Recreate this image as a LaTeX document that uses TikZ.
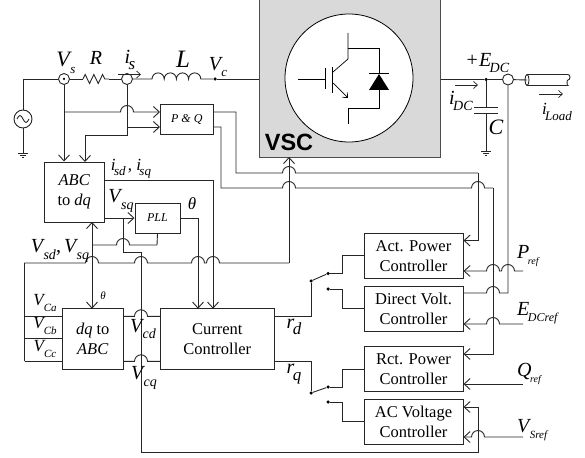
\documentclass[tikz,border=0pt]{standalone}
\usepackage{fontspec}
\setmainfont{Liberation Serif}
\newfontfamily\vscfont{Liberation Sans}
\usetikzlibrary{arrows.meta,decorations.pathmorphing}
\newcommand{\vsub}[3][13]{\textit{#2}\kern-1.5pt\raisebox{-.32em}{\fontsize{#1}{#1}\selectfont\textit{#3}}}
\newcommand{\gnd}[1]{\draw[sig] (#1) ++(-5,0) -- ++(10,0) ++(-8,2) -- ++(6,0) ++(-4,2) -- ++(2,0);}
\tikzset{
  sig/.style={line width=0.9pt, black!85},
  box/.style={draw=black!85, line width=1pt, fill=white, inner sep=0pt, align=center, font=\fontsize{16.5}{20}\selectfont},
  ctrl/.style={box, minimum width=99pt, minimum height=45pt},
  tag/.style={inner sep=0pt, font=\fontsize{20}{20}\selectfont},
  tagbig/.style={inner sep=0pt, font=\fontsize{25}{25}\selectfont},
  tagsm/.style={inner sep=0pt, font=\fontsize{17}{17}\selectfont},
  jack/.style={circle, draw=black!85, line width=0.9pt, minimum size=11pt, inner sep=0pt},
  dot/.style={circle, fill=black, minimum size=3.5pt, inner sep=0pt},
  cur/.style={-{Straight Barb[length=4pt,width=7pt]}, line width=0.7pt, black!85},
}
\begin{document}
\begin{tikzpicture}[x=1pt, y=-1pt, >={Straight Barb[length=6pt,width=11pt]}]
  \useasboundingbox (0,0) rectangle (585,457);
  % converter
  \node[draw=black!70, line width=1pt, fill=black!15, minimum width=181pt, minimum height=167pt, inner sep=0pt] (vsc) at (349.5,73.5) {};
  \node[circle, draw=black, line width=0.8pt, fill=white, minimum size=128pt, inner sep=0pt] (igbt) at (349,78) {};
  \node[inner sep=0pt, font=\vscfont\bfseries\fontsize{23.5}{23.5}\selectfont] (vsclabel) at (289,142) {VSC};
  \draw[line width=0.7pt] (298,79) -- (325,79) (325,68) -- (325,89) (332,67) -- (332,93);
  \draw[line width=0.7pt] (348,33) -- (348,59) -- (333,72);
  \draw[line width=0.7pt, -{Straight Barb[length=4pt,width=7pt]}] (333,83) -- (348,98);
  \draw[line width=0.7pt] (348,108) -- (348,124);
  \draw[line width=0.7pt] (348,48) -- (379,48) -- (379,73) (369,73) -- (389,73) (379,90) -- (379,108) -- (348,108);
  \fill (369,90) -- (389,90) -- (379,74) -- cycle;
  % blocks
  \node[box, minimum width=52.5pt, minimum height=29.5pt, font=\itshape\fontsize{12}{12}\selectfont] (pq) at (186.75,119.75) {P \& Q};
  \node[box, minimum width=60.5pt, minimum height=60pt] (abc) at (74.25,192) {\textit{ABC}\\to \textit{dq}};
  \node[box, minimum width=45pt, minimum height=30pt, font=\itshape\fontsize{12}{12}\selectfont] (pll) at (157.5,218) {PLL};
  \node[box, minimum width=60.5pt, minimum height=60.3pt] (dqabc) at (92.75,338.85) {\textit{dq} to\\\textit{ABC}};
  \node[box, minimum width=113.5pt, minimum height=60.3pt] (cc) at (217.25,338.85) {Current\\Controller};
  \node[ctrl] (act) at (413.5,255.75) {Act. Power\\Controller};
  \node[ctrl] (dvc) at (413.5,308.5) {Direct Volt.\\Controller};
  \node[ctrl] (rct) at (413.5,369) {Rct. Power\\Controller};
  \node[ctrl] (acv) at (413.5,421.75) {AC Voltage\\Controller};
  % power circuit
  \node[circle, draw=black!85, line width=0.9pt, minimum size=18pt, inner sep=0pt] (src) at (23,119) {};
  \node[jack] (vs) at (64,79) {};
  \node[dot, minimum size=2.5pt] (vsdot) at (64,79) {};
  \node[jack] (is) at (127,79) {};
  \node[dot] (vcdot) at (215,79) {};
  \node[dot] (dcdot) at (486,79.5) {};
  \node[jack] (ed) at (508,79.5) {};
  \coordinate (resl) at (83,79);
  \coordinate (resr) at (109,79);
  \coordinate (indl) at (152,79);
  \coordinate (gndac) at (23,153);
  \coordinate (gnddc) at (486,151);
  \coordinate (cabl) at (527,80);
  \draw[sig] (17,119) sin (20,115.5) cos (23,119) sin (26,122.5) cos (29,119);
  \draw[sig] (vs) -| (src);
  \draw[sig] (src) -- (gndac);
  \gnd{gndac}
  \draw[sig] (vs) -- (resl);
  \draw[sig, decorate, decoration={zigzag, segment length=8.7pt, amplitude=4.5pt}] (resl) -- (resr);
  \draw[sig] (resr) -- (is);
  \draw[sig] (is) -- (indl) arc (180:360:6.1) arc (180:360:6.1) arc (180:360:6.1) arc (180:360:6.1) -- (vcdot);
  \draw[sig] (vcdot) -- (vsc.west |- vcdot);
  \draw[sig] (vsc.east |- dcdot) -- (dcdot);
  \draw[sig] (dcdot) -- (ed);
  \draw[sig] (ed) -- (cabl);
  \draw[sig] (dcdot) -- (486,107) (474,107) -- (498,107) (474,113) -- (498,113) (486,113) -- (gnddc);
  \gnd{gnddc}
  \draw[sig] (cabl) ellipse (2 and 5.5);
  \draw[sig] (527,74.5) -- (568,74.5) arc (-90:90:2 and 2.75) arc (-90:-270:1 and 2.75) -- (527,85.5);
  \draw[cur] (118,74.5) -- (141,74.5);
  \draw[cur] (455,85) -- (478,85);
  \draw[cur] (539,94) -- (563,94);
  % measurements
  \draw[sig, ->] (vs) -- (vs |- abc.north);
  \draw[sig, ->] (64,112) -- (120.5,112) arc (180:360:6.5) -- (pq.west |- 0,112);
  \draw[sig, ->] (127,127) -- (pq.west |- 0,127);
  \draw[sig, ->] (is) -- (127,135) -- (85,135) -- (85,162);
  \draw[sig, ->] (abc.east |- 0,218) -- (pll.west);
  \draw[sig, ->] (abc.east |- 0,180) -- (213,180) -- (213,308.7);
  \draw[sig, ->] (pll.east) -- (198,218) -- (198,308.7);
  \draw[sig] (pll.south) -- (157,245) -- (129.5,245) arc (360:180:6.5) -- (92,245);
  \draw[sig, <->] (92,222) -- (92,308.7);
  \draw[sig] (123,218) -- (123,252.7) -- (141,252.7) -- (141,452) -- (478,452) -- (478,437);
  \draw[sig, ->] (478,437) -- (478,407) -- (acv.east |- 0,407);
  \draw[sig] (24.5,361) -- (24.5,263) -- (85.5,263) arc (180:360:6.5) -- (134.5,263) arc (180:360:6.5) -- (191.5,263) arc (180:360:6.5) -- (206.5,263) arc (180:360:6.5) -- (289,263);
  \draw[sig, ->] (289,263) -- (289,157);
  \draw[sig] (24.5,316.3) -- (dqabc.west |- 0,316.3);
  \draw[sig] (24.5,338.7) -- (dqabc.west |- 0,338.7);
  \draw[sig] (24.5,361.3) -- (dqabc.west |- 0,361.3);
  \draw[sig] (dqabc.east |- 0,316.3) -- (134.5,316.3) arc (180:360:6.5) -- (cc.west |- 0,316.3);
  \draw[sig] (dqabc.east |- 0,361.3) -- (134.5,361.3) arc (180:360:6.5) -- (cc.west |- 0,361.3);
  % power and voltage feedback
  \draw[sig] (pq.east |- 0,112) -- (236,112) -- (236,173) -- (282.5,173) arc (180:360:6.5) -- (478,173);
  \draw[sig, ->] (478,173) -- (478,240.5) -- (act.east |- 0,240.5);
  \draw[sig] (pq.east |- 0,127) -- (221,127) -- (221,188) -- (282.5,188) arc (180:360:6.5) -- (471.5,188) arc (180:360:6.5) -- (493,188);
  \draw[sig, ->] (493,188) -- (493,354) -- (rct.east |- 0,354);
  \draw[sig] (ed) -- (508,293) -- (499.5,293) arc (0:-180:6.5) -- (dvc.east |- 0,293);
  % references
  \coordinate (pref) at (523,271);
  \coordinate (edcref) at (523,324);
  \coordinate (qref) at (523,384);
  \coordinate (vsref) at (523,437);
  \draw[sig, ->] (pref) -- (514.5,271) arc (0:-180:6.5) -- (499.5,271) arc (0:-180:6.5) -- (act.east |- pref);
  \draw[sig, ->] (edcref) -- (499.5,324) arc (0:-180:6.5) -- (dvc.east |- edcref);
  \draw[sig, ->] (qref) -- (rct.east |- qref);
  \draw[sig, ->] (vsref) -- (484.5,437) arc (0:-180:6.5) -- (acv.east |- vsref);
  % mode switches
  \node[dot] (dpole) at (311,281) {};
  \node[dot] (dup) at (328,273.5) {};
  \node[dot] (ddown) at (328,289) {};
  \node[dot] (qpole) at (311,393) {};
  \node[dot] (qup) at (328,387) {};
  \node[dot] (qdown) at (328,402) {};
  \draw[sig] (cc.east |- 0,316.3) -| (dpole);
  \draw[sig] (dpole) -- (dup);
  \draw[sig] (dup) -- (342,273.5) |- (act.west);
  \draw[sig] (ddown) -- (342,289) |- (dvc.west);
  \draw[sig] (cc.east |- 0,361.3) -| (qpole);
  \draw[sig] (qpole) -- (qup);
  \draw[sig] (qup) -- (342,387) |- (rct.west);
  \draw[sig] (qdown) -- (342,402) |- (acv.west);
  % labels
  \node[inner sep=0pt, font=\fontsize{22}{22}\selectfont] (lvs) at (66,63) {\vsub{V}{s}};
  \node[tag] (lr) at (96,58) {\textit{R}};
  \node[tag] (lis) at (130,60) {\vsub[17]{i}{s}};
  \node[tagbig] (ll) at (183,59) {\textit{L}};
  \node[tag] (lvc) at (218,67) {\vsub{V}{c}};
  \node[tagsm] (lisd) at (131,169) {\vsub{i}{sd}\kern2pt, \vsub{i}{sq}};
  \node[tag] (lvsq) at (121,201) {\vsub[14]{V}{sq}};
  \node[tagsm] (lth) at (192,204) {\textit{θ}};
  \node[inner sep=0pt, font=\itshape\fontsize{11}{11}\selectfont] (lth2) at (103,296) {θ};
  \node[tag] (lvsd) at (60,251) {\vsub[14]{V}{sd},\kern3pt\vsub[14]{V}{sq}};
  \node[tagsm] (lca) at (45,303) {\vsub[11]{V}{Ca}};
  \node[tagsm] (lcb) at (45,326) {\vsub[11]{V}{Cb}};
  \node[tagsm] (lcc) at (45,349) {\vsub[11]{V}{Cc}};
  \node[tag] (lcd) at (143,329) {\vsub[14]{V}{cd}};
  \node[tag] (lcq) at (144,378) {\vsub[14]{V}{cq}};
  \node[tag] (lrd) at (294,327) {\vsub[17]{r}{d}};
  \node[tag] (lrq) at (294,374) {\vsub[17]{r}{q}};
  \node[tag] (ledc) at (488,63) {+\kern1pt\vsub[14]{E}{DC}};
  \node[tag] (lidc) at (461,101) {\vsub[14]{i}{DC}};
  \node[inner sep=0pt, font=\fontsize{22}{22}\selectfont] (lc) at (496,127) {\textit{C}};
  \node[tagsm] (lload) at (557,112) {\vsub[13]{i}{Load}};
  \node[tag, anchor=west] (lpref) at (517,256) {\vsub[10]{P}{ref}};
  \node[tag, anchor=west] (ledcref) at (517,313) {\vsub[12]{E}{DCref}};
  \node[tag, anchor=west] (lqref) at (517,374) {\vsub[10]{Q}{ref}};
  \node[tag, anchor=west] (lvsref) at (517,430) {\vsub[11]{V}{Sref}};
\end{tikzpicture}
\end{document}
